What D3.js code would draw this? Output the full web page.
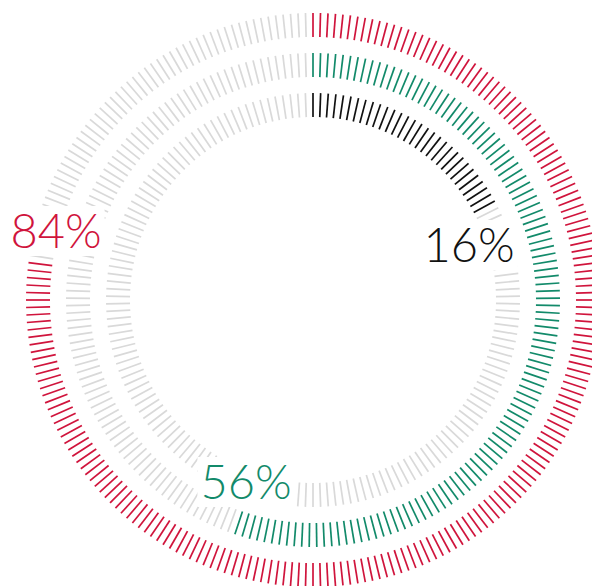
<!DOCTYPE html>
<html>
<head>
<meta charset="utf-8">
<script src="https://cdn.jsdelivr.net/npm/d3@7"></script>
<style>
  html, body { margin: 0; padding: 0; background: #fff; overflow: hidden; }
  svg { display: block; }
</style>
</head>
<body>
<svg id="chart" width="592" height="586"></svg>
<script>
// ---- data ----
const series = ["outer", "middle", "inner"];
const labels = ["84%", "56%", "16%"];
const values = [84, 56, 16];
// portion of each ring drawn in colour
const filledFraction = [0.772, 0.554, 0.172];
const tickCounts = [240, 205, 170];

// ---- style ----
const colors = ["#d0143c", "#128a6a", "#111111"];
const grey = "#d9d9d9";
const W = 592, H = 586;
const cx = 313, cy = 300;
const rings = [
  { r0: 263, r1: 287 },
  { r0: 223, r1: 247 },
  { r0: 183, r1: 207 }
];
// label centre positions (style)
const labelPos = [
  { x: 56, y: 230 },
  { x: 246, y: 481 },
  { x: 469, y: 244 }
];

const svg = d3.select("#chart");
const g = svg.append("g").attr("transform", `translate(${cx},${cy})`);

series.forEach((s, k) => {
  const N = tickCounts[k];
  const angle = d3.scaleLinear().domain([0, N]).range([0, 2 * Math.PI]);
  const endAngle = filledFraction[k] * 2 * Math.PI;
  const ticks = d3.range(N).map(i => ({ a: angle(i) }));
  g.append("g").attr("class", "ring-" + s)
    .selectAll("line").data(ticks).join("line")
    .attr("x1", d => rings[k].r0 * Math.sin(d.a))
    .attr("y1", d => -rings[k].r0 * Math.cos(d.a))
    .attr("x2", d => rings[k].r1 * Math.sin(d.a))
    .attr("y2", d => -rings[k].r1 * Math.cos(d.a))
    .attr("stroke", d => d.a < endAngle - 1e-9 ? colors[k] : grey)
    .attr("stroke-width", 1.7);
});

// labels with white backgrounds
series.forEach((s, k) => {
  const lg = svg.append("g");
  const rect = lg.append("rect").attr("fill", "#fff");
  const t = lg.append("text")
    .attr("x", labelPos[k].x)
    .attr("y", labelPos[k].y)
    .attr("text-anchor", "middle")
    .attr("dominant-baseline", "central")
    .attr("font-family", "Lato, 'Open Sans', sans-serif")
    .attr("font-weight", 300)
    .attr("font-size", 47)
    .attr("fill", colors[k])
    .text(labels[k]);
  const bb = t.node().getBBox();
  rect.attr("x", bb.x - 3).attr("y", bb.y + 4)
    .attr("width", bb.width + 6).attr("height", bb.height - 6);
});
</script>
</body>
</html>
